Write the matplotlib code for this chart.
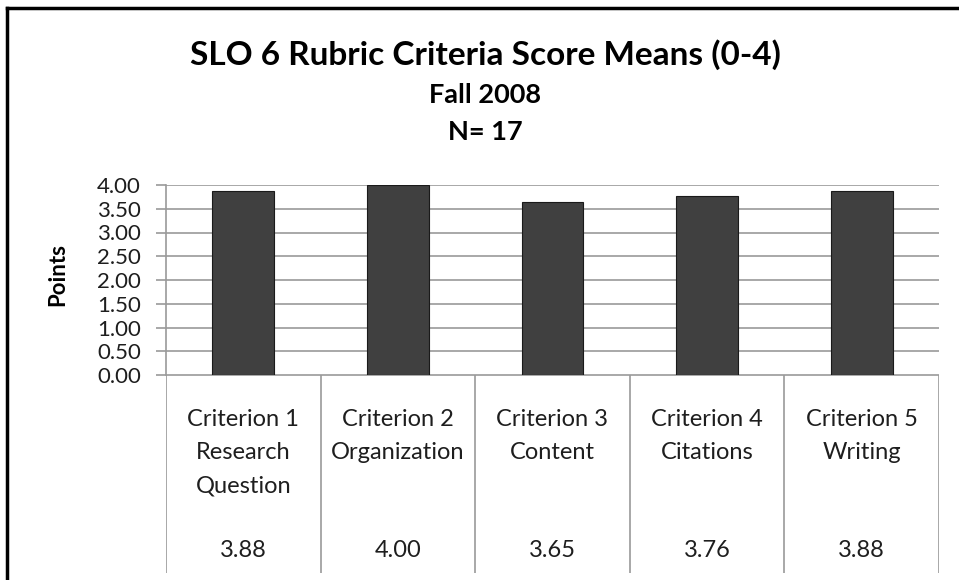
import matplotlib
matplotlib.use("Agg")
import matplotlib.pyplot as plt
from matplotlib.lines import Line2D

categories = ["Criterion 1\nResearch\nQuestion", "Criterion 2\nOrganization",
              "Criterion 3\nContent", "Criterion 4\nCitations", "Criterion 5\nWriting"]
values = [3.88, 4.00, 3.65, 3.76, 3.88]
yticks = [0.0, 0.5, 1.0, 1.5, 2.0, 2.5, 3.0, 3.5, 4.0]
title = "SLO 6 Rubric Criteria Score Means (0-4)"
subtitle1 = "Fall 2008"
subtitle2 = "N= 17"
ylabel = "Points"

W, H = 959, 580
plt.rcParams['font.family'] = ['Lato', 'DejaVu Sans']
fig = plt.figure(figsize=(W / 100, H / 100), dpi=100)

def fx(px):
    return px / W

def fy(py):
    return 1 - py / H

GRID = "#9a9a9a"
TXT = "#1e1e1e"
x0, x1 = 166, 939
ytop, ybot = 185, 375

ax = fig.add_axes([fx(x0), fy(ybot), fx(x1) - fx(x0), fy(ytop) - fy(ybot)])
n = len(values)
xs = list(range(n))
ax.bar(xs, values, width=0.4, color="#404040", edgecolor="#1a1a1a", linewidth=0.8, zorder=3)
ax.set_xlim(-0.5, n - 0.5)
ax.set_ylim(0, 4)
ax.set_yticks(yticks)
ax.set_yticklabels([f"{v:.2f}" for v in yticks], fontsize=16, color=TXT)
ax.set_xticks([])
ax.yaxis.grid(True, color=GRID, linewidth=1.2, zorder=0)
for s in ["top", "right", "bottom"]:
    ax.spines[s].set_visible(False)
ax.spines["left"].set_color(GRID)
ax.spines["left"].set_linewidth(1.2)
ax.tick_params(axis="y", length=7, width=1.2, color=GRID, pad=11)

fig.text(fx(58), fy(275), ylabel, rotation=90, ha="center", va="center",
         fontsize=16, fontweight="bold", color="black")

# data table below the plot
tab = fig.add_axes([fx(x0), fy(573), fx(x1) - fx(x0), fy(ybot) - fy(573)])
tab.set_xlim(-0.5, n - 0.5)
tab.set_ylim(573, ybot)
tab.axis("off")
tab.axhline(ybot, color=GRID, linewidth=1.2)
for i in range(n + 1):
    tab.axvline(i - 0.5, color=GRID, linewidth=1.2)
for i, (c, v) in enumerate(zip(categories, values)):
    for j, line in enumerate(c.split("\n")):
        tab.text(i, 426 + 33 * j, line, ha="center", va="baseline", fontsize=17, color=TXT)
    tab.text(i, 557, f"{v:.2f}", ha="center", va="baseline", fontsize=17, color=TXT)

# titles
fig.text(fx(485), fy(65), title, ha="center", va="baseline", fontsize=24, fontweight="bold")
fig.text(fx(485), fy(103), subtitle1, ha="center", va="baseline", fontsize=19.5, fontweight="bold")
fig.text(fx(485), fy(140), subtitle2, ha="center", va="baseline", fontsize=19.5, fontweight="bold")

# outer border (left and top)
fig.add_artist(Line2D([fx(7), fx(7)], [fy(8), 0], color="black", linewidth=2.5, transform=fig.transFigure))
fig.add_artist(Line2D([fx(7), 1], [fy(8), fy(8)], color="black", linewidth=2.5, transform=fig.transFigure))

fig.savefig("out.png", dpi=100)
